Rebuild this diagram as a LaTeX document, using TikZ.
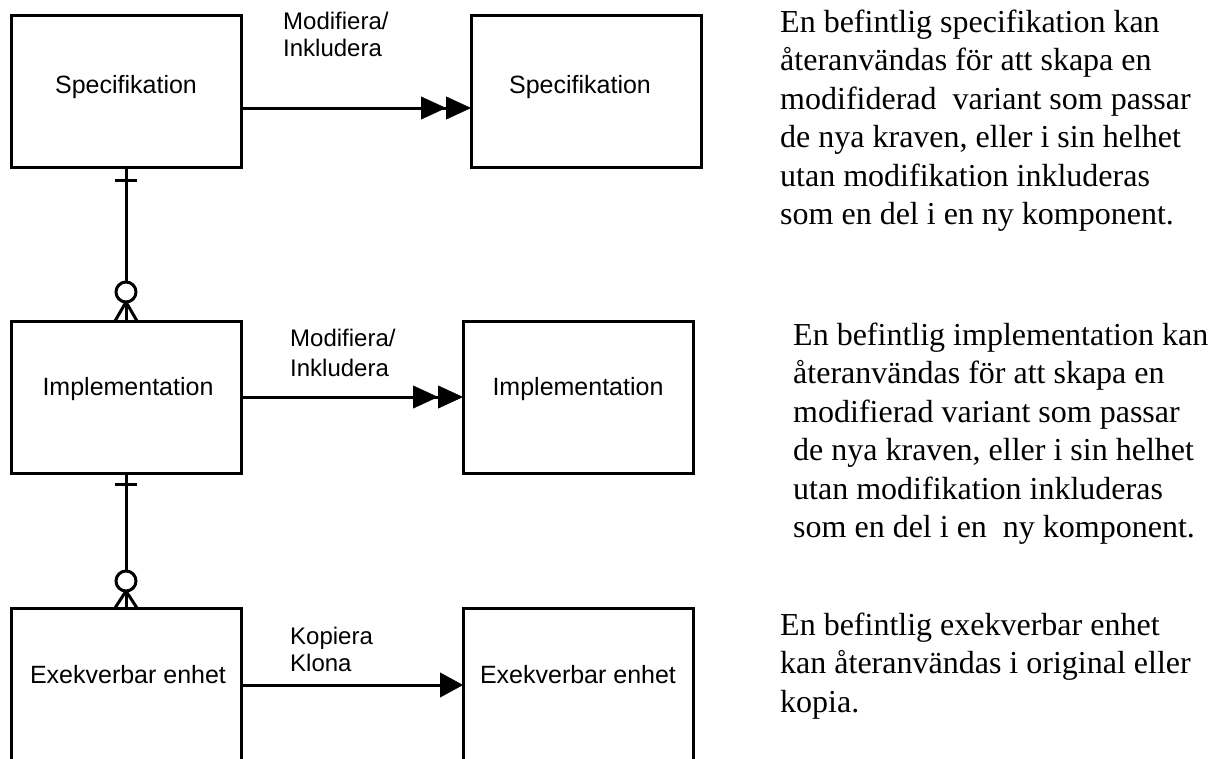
\documentclass[tikz,border=0pt]{standalone}
\usepackage{fontspec}
\setmainfont{Liberation Serif}
\newfontfamily\arialfont{Liberation Sans}
\usetikzlibrary{arrows.meta,calc}

\begin{document}
\begin{tikzpicture}[x=1pt,y=-1pt,
  ent/.style={draw,line width=3pt,minimum width=230pt,minimum height=152pt,
    inner sep=0pt,outer sep=0pt,anchor=north west},
  entopen/.style={ent,minimum height=175pt},
  enttext/.style={font=\arialfont\fontsize{25}{30}\selectfont,inner sep=0pt},
  rel/.style={font=\arialfont\fontsize{24}{27}\selectfont,inner sep=0pt,
    anchor=north west,align=left},
  desc/.style={font=\fontsize{32}{38}\selectfont,inner sep=0pt,anchor=base west},
  conn/.style={line width=3pt},
  dbltip/.style={-{Triangle[length=25pt 0 0,width=23pt 0 0,line width=0.4pt]%
      Triangle[length=25pt 0 0,width=23pt 0 0,line width=0.4pt]}},
  onetip/.style={-{Triangle[length=23pt 0 0,width=25pt 0 0,line width=0.4pt]}}
]
\clip (0,0) rectangle (1214,758);

% entity boxes
\node[ent] (spec)  at (11,15)  {};
\node[ent] (specR) at (471,15) {};
\node[ent] (impl)  at (11,321) {};
\node[ent] (implR) at (463,321) {};
\node[entopen] (exe)  at (11,608)  {};
\node[entopen] (exeR) at (463,608) {};

% box captions
\node[enttext] (specT)  at (126,87)  {Specifikation};
\node[enttext] (specRT) at (580,87)  {Specifikation};
\node[enttext] (implT)  at (128,389) {Implementation};
\node[enttext] (implRT) at (578,389) {Implementation};
\node[enttext] (exeT)   at (128,675) {Exekverbar enhet};
\node[enttext] (exeRT)  at (578,675) {Exekverbar enhet};

% horizontal relations
\coordinate (rowA) at (0,108);
\coordinate (rowB) at (0,397);
\coordinate (rowC) at (0,685);
\draw[conn,dbltip] (spec.east |- rowA) -- (specR.west |- rowA);
\draw[conn,dbltip] (impl.east |- rowB) -- (implR.west |- rowB);
\draw[conn,onetip] (exe.east |- rowC) -- (exeR.west |- rowC);

\node[rel] (relA) at (283,12)  {Modifiera/\\Inkludera};
\node[rel,font=\arialfont\fontsize{24}{30}\selectfont] (relB) at (290,329) {Modifiera/\\Inkludera};
\node[rel] (relC) at (290,627) {Kopiera\\Klona};

% one-to-many links (bar on the one side, circle and crow's foot on the many side)
\coordinate (mA) at ($(impl.north)+(0,-29)$);
\draw[conn] (spec.south) -- ($(mA)+(0,-10)$);
\draw[conn] ($(spec.south)+(-11,13)$) -- ($(spec.south)+(11,13)$);
\draw[conn] (mA) circle[radius=10];
\draw[conn] ($(mA)+(0,10)$) -- (impl.north);
\draw[conn] ($(mA)+(0,10)$) -- ($(impl.north)+(-11,0)$);
\draw[conn] ($(mA)+(0,10)$) -- ($(impl.north)+(11,0)$);

\coordinate (mB) at ($(exe.north)+(0,-27)$);
\draw[conn] (impl.south) -- ($(mB)+(0,-10)$);
\draw[conn] ($(impl.south)+(-11,11)$) -- ($(impl.south)+(11,11)$);
\draw[conn] (mB) circle[radius=10];
\draw[conn] ($(mB)+(0,10)$) -- (exe.north);
\draw[conn] ($(mB)+(0,10)$) -- ($(exe.north)+(-11,0)$);
\draw[conn] ($(mB)+(0,10)$) -- ($(exe.north)+(11,0)$);

% explanatory text
\foreach \ln [count=\k from 0] in {En befintlig specifikation kan,
    återanvändas för att skapa en,
    modifiderad~ variant som passar,
    {de nya kraven, eller i sin helhet},
    utan modifikation inkluderas,
    som en del i en ny komponent.}
  \node[desc,name=descA\k] at (780,{32+38.5*\k}) {\ln};

\foreach \ln [count=\k from 0] in {En befintlig implementation kan,
    återanvändas för att skapa en,
    modifierad variant som passar,
    {de nya kraven, eller i sin helhet},
    utan modifikation inkluderas,
    som en del i en~ ny komponent.}
  \node[desc,name=descB\k] at (793,{345+38.5*\k}) {\ln};

\foreach \ln [count=\k from 0] in {En befintlig exekverbar enhet,
    kan återanvändas i original eller,
    kopia.}
  \node[desc,name=descC\k] at (780,{635+38.5*\k}) {\ln};
\end{tikzpicture}
\end{document}
